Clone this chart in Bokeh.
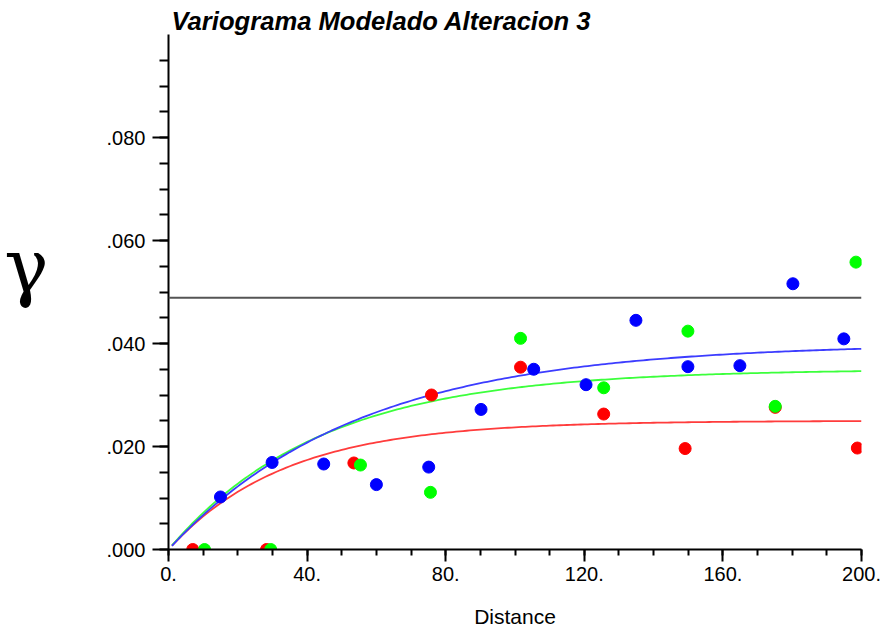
import numpy as np
from bokeh.plotting import figure
from bokeh.models import (FixedTicker, CustomJSTickFormatter, Span,
                          ColumnDataSource)
from bokeh.embed import file_html
from bokeh.resources import INLINE

# ---------------- data ----------------
title_text = "Variograma Modelado Alteracion 3"
x_label = "Distance"
y_label = "\u03b3"

x_ticks = [0, 40, 80, 120, 160, 200]
x_tick_labels = ["0.", "40.", "80.", "120.", "160.", "200."]
y_ticks = [0.0, 0.02, 0.04, 0.06, 0.08]
y_tick_labels = [".000", ".020", ".040", ".060", ".080"]

red_lag = [7.0, 28.3, 53.5, 75.9, 101.6, 125.6, 149.1, 175.1, 198.8]
red_gamma = [0.0, 0.0, 0.0168, 0.0300, 0.0354, 0.0263, 0.0196, 0.0276, 0.0197]

green_lag = [10.4, 29.5, 55.4, 75.6, 101.6, 125.6, 149.9, 175.1, 198.4]
green_gamma = [0.0, 0.0, 0.0164, 0.0111, 0.0410, 0.0314, 0.0424, 0.0278, 0.0558]

blue_lag = [15.0, 29.9, 44.8, 60.0, 75.1, 90.2, 105.4, 120.5, 134.9,
            149.9, 164.9, 180.2, 194.9]
blue_gamma = [0.0102, 0.0169, 0.0166, 0.0126, 0.0160, 0.0272, 0.0350, 0.0320,
              0.0445, 0.0355, 0.0357, 0.0516, 0.0409]

# exponential model parameters (sill, practical range)
red_model = (0.025, 101.0)
green_model = (0.035, 132.0)
blue_model = (0.040, 164.0)
model_start = 1.0
model_end = 200.0

total_sill = 0.0489

# ---------------- figure ----------------
FONT = "Liberation Sans"

p = figure(width=885, height=630, x_range=(0, 200), y_range=(0, 0.1),
           output_backend="svg", toolbar_location=None,
           min_border_left=168, min_border_right=24,
           min_border_top=34, min_border_bottom=81)
p.outline_line_color = None
p.xgrid.visible = False
p.ygrid.visible = False
p.background_fill_color = "white"
p.border_fill_color = "white"

# title
p.title.text = title_text
p.title.align = "left"
p.title.offset = 3
p.title.standoff = 0
p.title.text_font = FONT
p.title.text_font_size = "25.6px"
p.title.text_font_style = "bold italic"
p.title.text_color = "black"

# x axis
xa = p.xaxis[0]
xa.ticker = FixedTicker(ticks=x_ticks, minor_ticks=list(np.arange(0, 201, 10)))
xa.formatter = CustomJSTickFormatter(
    args=dict(vals=x_ticks, labs=x_tick_labels),
    code="""let b = 0; for (let i = 0; i < vals.length; i++) {
      if (Math.abs(vals[i] - tick) < Math.abs(vals[b] - tick)) b = i; }
      return labs[b];""")
xa.axis_line_width = 2
xa.axis_line_color = "black"
xa.major_tick_out = 12
xa.major_tick_in = 0
xa.minor_tick_out = 6
xa.minor_tick_in = 0
xa.major_tick_line_width = 2
xa.minor_tick_line_width = 2
xa.major_label_text_font = FONT
xa.major_label_text_font_size = "20px"
xa.major_label_text_color = "black"
xa.major_label_standoff = 5
xa.axis_label = x_label
xa.axis_label_text_font = FONT
xa.axis_label_text_font_size = "21px"
xa.axis_label_text_font_style = "normal"
xa.axis_label_text_color = "black"
xa.axis_label_standoff = 21

# y axis
ya = p.yaxis[0]
ya.ticker = FixedTicker(ticks=y_ticks,
                        minor_ticks=list(np.round(np.arange(0, 0.0951, 0.005), 4)))
ya.formatter = CustomJSTickFormatter(
    args=dict(vals=y_ticks, labs=y_tick_labels),
    code="""let b = 0; for (let i = 0; i < vals.length; i++) {
      if (Math.abs(vals[i] - tick) < Math.abs(vals[b] - tick)) b = i; }
      return labs[b];""")
ya.axis_line_width = 2
ya.axis_line_color = "black"
ya.major_tick_out = 16
ya.major_tick_in = 0
ya.minor_tick_out = 9
ya.minor_tick_in = 0
ya.major_tick_line_width = 2
ya.minor_tick_line_width = 2
ya.major_label_text_font = FONT
ya.major_label_text_font_size = "20px"
ya.major_label_text_color = "black"
ya.major_label_standoff = 7
ya.axis_label = y_label + "\n "
ya.axis_label_text_font = "DejaVu Serif"
ya.axis_label_text_font_size = "74px"
ya.axis_label_text_font_style = "normal"
ya.axis_label_text_color = "black"
ya.axis_label_text_line_height = 0.6
ya.axis_label_standoff = 55
try:
    ya.axis_label_orientation = "horizontal"
except AttributeError:
    pass

# sill line
p.add_layout(Span(location=total_sill, dimension="width",
                  line_color="#555555", line_width=2))

# model curves
def expo(params):
    c, a = params
    h = np.linspace(model_start, model_end, 200)
    return h, c * (1.0 - np.exp(-3.0 * h / a))

for params, col in [(red_model, "#ff3c3c"), (green_model, "#3cff3c"),
                    (blue_model, "#3c3cff")]:
    h, g = expo(params)
    p.line(h, g, line_color=col, line_width=1.8)

# experimental points
for lag, gam, col in [(red_lag, red_gamma, "#ff0000"),
                      (green_lag, green_gamma, "#00ff00"),
                      (blue_lag, blue_gamma, "#0000ff")]:
    src = ColumnDataSource(dict(x=lag, y=gam))
    p.scatter("x", "y", source=src, size=12, fill_color=col, line_color=col)

open("out.html", "w").write(file_html(p, INLINE))
